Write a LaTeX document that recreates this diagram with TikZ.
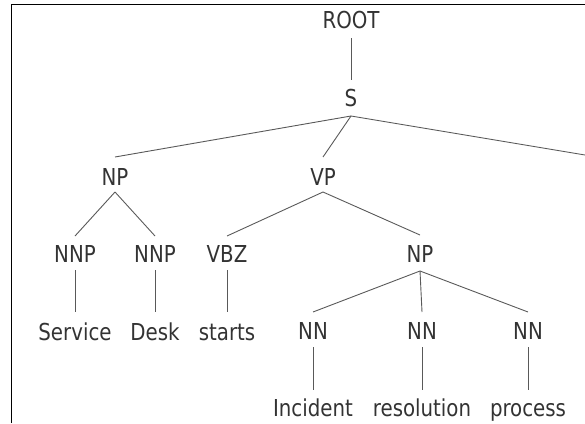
\documentclass[tikz,border=0pt]{standalone}
\usepackage{fontspec}
\usepackage{graphicx}
\newfontfamily\treefont{DejaVu Sans Condensed}
\newcommand\tlab[1]{\scalebox{1}[1.06]{#1}}
\tikzset{
  lbl/.style={font=\treefont\fontsize{22}{24}\selectfont, text=black!80, inner sep=0pt, anchor=base},
  edge/.style={draw=black!65, line width=0.9pt},
  frame/.style={draw=black, line width=1.4pt}
}
\begin{document}
\begin{tikzpicture}[x=1pt,y=-1pt]
\useasboundingbox (0,0) rectangle (585,423);
\draw[frame] (11.5,423) -- (11.5,4.5) -- (585,4.5);
% labels (positioned at baseline)
\node[lbl] (root) at (351,28) {\tlab{ROOT}};
\node[lbl] (s) at (351,106) {\tlab{S}};
\node[lbl] (np1) at (115,185) {\tlab{NP}};
\node[lbl] (vp) at (323,185) {\tlab{VP}};
\node[lbl] (nnp1) at (75,262) {\tlab{NNP}};
\node[lbl] (nnp2) at (155,262) {\tlab{NNP}};
\node[lbl] (vbz) at (227,262) {\tlab{VBZ}};
\node[lbl] (np2) at (420,262) {\tlab{NP}};
\node[lbl] (w1) at (75,340) {\tlab{Service}};
\node[lbl] (w2) at (155,340) {\tlab{Desk}};
\node[lbl] (w3) at (227,340) {\tlab{starts}};
\node[lbl] (nn1) at (313,339) {\tlab{NN}};
\node[lbl] (nn2) at (422,339) {\tlab{NN}};
\node[lbl] (nn3) at (528,339) {\tlab{NN}};
\node[lbl] (w4) at (313,416.5) {\tlab{Incident}};
\node[lbl] (w5) at (422,416.5) {\tlab{resolution}};
\node[lbl] (w6) at (528,416.5) {\tlab{process}};
% anchor coordinates
\coordinate (rootb) at (351,38);
\coordinate (st) at (351,80);
\coordinate (sb) at (351,116);
\coordinate (np1t) at (115,157);
\coordinate (vpt) at (323,157);
\coordinate (off) at (585,155);
\coordinate (np1b) at (115,192);
\coordinate (vpb) at (323,192);
\coordinate (nnp1t) at (75,236);
\coordinate (nnp2t) at (155,236);
\coordinate (vbzt) at (227,236);
\coordinate (np2t) at (420,235);
\coordinate (nnp1b) at (75,270);
\coordinate (nnp2b) at (155,270);
\coordinate (vbzb) at (227,270);
\coordinate (np2b) at (420,271);
\coordinate (w1t) at (75,312);
\coordinate (w2t) at (155,312);
\coordinate (w3t) at (227,312);
\coordinate (nn1t) at (313,312);
\coordinate (nn2t) at (422,312);
\coordinate (nn3t) at (528,312);
\coordinate (nn1b) at (313,347);
\coordinate (nn2b) at (422,347);
\coordinate (nn3b) at (528,347);
\coordinate (w4t) at (313,390);
\coordinate (w5t) at (422,390);
\coordinate (w6t) at (528,390);
% edges
\draw[edge] (rootb) -- (st);
\draw[edge] (sb) -- (np1t);
\draw[edge] (sb) -- (vpt);
\draw[edge] (sb) -- (off);
\draw[edge] (np1b) -- (nnp1t);
\draw[edge] (np1b) -- (nnp2t);
\draw[edge] (vpb) -- (vbzt);
\draw[edge] (vpb) -- (np2t);
\draw[edge] (nnp1b) -- (w1t);
\draw[edge] (nnp2b) -- (w2t);
\draw[edge] (vbzb) -- (w3t);
\draw[edge] (np2b) -- (nn1t);
\draw[edge] (np2b) -- (nn2t);
\draw[edge] (np2b) -- (nn3t);
\draw[edge] (nn1b) -- (w4t);
\draw[edge] (nn2b) -- (w5t);
\draw[edge] (nn3b) -- (w6t);
\end{tikzpicture}
\end{document}
